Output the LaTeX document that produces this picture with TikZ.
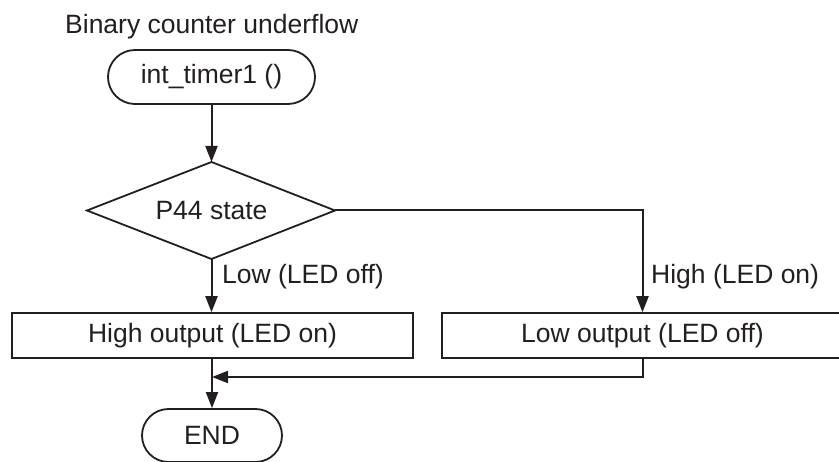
\documentclass[tikz,border=0pt]{standalone}
\usepackage{fontspec}
\setmainfont{Liberation Sans}
\usetikzlibrary{shapes.misc,arrows.meta}
\definecolor{ink}{HTML}{231F20}
\tikzset{
  txt/.style={font=\fontsize{26.5}{30}\selectfont, text=ink},
  term/.style={txt, rounded rectangle, draw=ink, line width=1.8pt, inner sep=0pt},
  procbox/.style={txt, rectangle, draw=ink, line width=1.5pt, inner sep=0pt, minimum width=401pt, minimum height=45pt},
  decline/.style={draw=ink, line width=1.8pt, line join=miter},
  flow/.style={draw=ink, line width=2pt, -{Triangle[length=16pt,width=12pt]}},
  lbl/.style={txt, anchor=west, inner sep=0pt}
}
\begin{document}
\begin{tikzpicture}[x=1pt,y=-1pt]
\useasboundingbox (0,0) rectangle (839,462);
\node[txt, anchor=base west, inner sep=0pt] (title) at (65,34) {Binary counter underflow};
\node[term, minimum width=207pt, minimum height=54pt] (start) at (211.5,77) {int\_timer1 ()};
\coordinate (dtop) at (211.5,162);
\coordinate (dright) at (335,210.5);
\coordinate (dbot) at (211.5,259);
\coordinate (dleft) at (87,210.5);
\draw[decline] (dtop) -- (dright) -- (dbot) -- (dleft) -- cycle;
\node[txt, inner sep=0pt] (dec) at (211.5,210.5) {P44 state};
\node[procbox] (hi) at (212.5,335.5) {High output (LED on)};
\node[procbox] (lo) at (642.5,335.5) {Low output (LED off)};
\node[term, minimum width=140pt, minimum height=53pt] (stop) at (212,435.5) {END};
\coordinate (join) at (212,377);
\draw[flow] (start.south) -- (dtop);
\draw[flow] (dbot) -- (dbot |- hi.north);
\draw[flow] (dright) -| (lo.north);
\draw[flow] (hi.south -| stop.north) -- (stop.north);
\draw[flow] (lo.south) |- (join);
\node[lbl] (lowlbl) at (222,277) {Low (LED off)};
\node[lbl] (highlbl) at (651,277) {High (LED on)};
\end{tikzpicture}
\end{document}
